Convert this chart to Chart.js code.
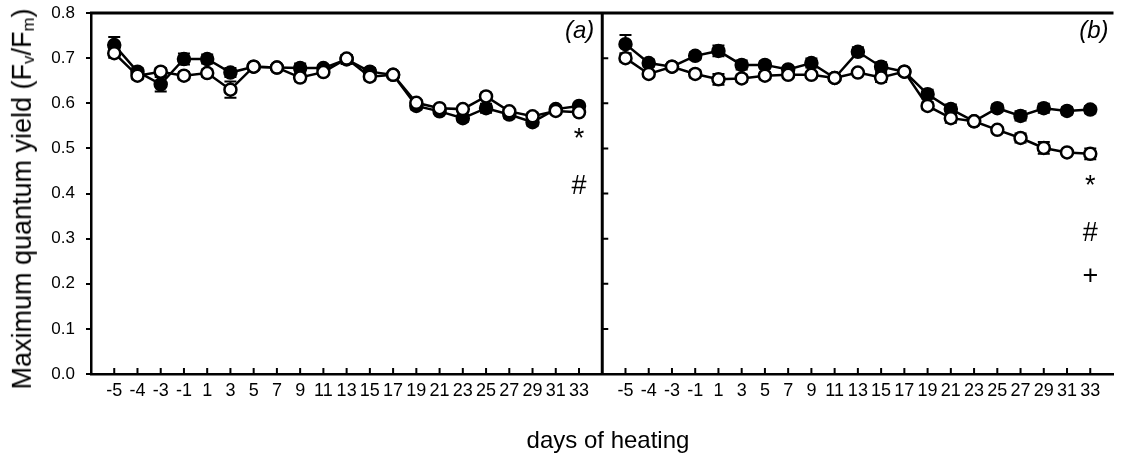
<!DOCTYPE html>
<html>
<head>
<meta charset="utf-8">
<script src="https://cdn.jsdelivr.net/npm/chart.js@4"></script>
<style>
  body { margin: 0; background: #fff; }
  #wrap { position: relative; width: 1122px; height: 453px; font-family: "Liberation Sans", Arial, sans-serif; color: #000; }
  #chartBox { position: absolute; left: 0; top: 0; width: 1122px; height: 453px; }
  .ytitle { position: absolute; left: 23px; top: 199px; white-space: nowrap; font-size: 27px; line-height: 1;
            transform: translate(-50%, -50%) rotate(-90deg); }
  .ytitle sub { font-size: 0.62em; vertical-align: -0.15em; }
  .xtitle { position: absolute; left: 608px; top: 440px; white-space: nowrap; font-size: 24px; line-height: 1;
            transform: translate(-50%, -50%); }
</style>
</head>
<body>
<div id="wrap">
  <div id="chartBox"><canvas id="myChart"></canvas></div>
  <div class="ytitle">Maximum quantum yield (F<sub>v</sub>/F<sub>m</sub>)</div>
  <div class="xtitle">days of heating</div>
</div>
<script>
// days of heating (same for both panels)
var categories = ['-5', '-4', '-3', '-1', '1', '3', '5', '7', '9', '11', '13', '15', '17', '19', '21', '23', '25', '27', '29', '31', '33'];

// panel (a)
var filledA = [0.729, 0.670, 0.642, 0.698, 0.698, 0.668, 0.681, 0.679, 0.678, 0.678, 0.697, 0.670, 0.663, 0.594, 0.582, 0.567, 0.589, 0.575, 0.558, 0.587, 0.594];
var openA   = [0.711, 0.661, 0.670, 0.661, 0.667, 0.630, 0.681, 0.679, 0.657, 0.669, 0.699, 0.659, 0.663, 0.601, 0.589, 0.587, 0.615, 0.582, 0.571, 0.583, 0.580];
var errFilledA = [0.018, 0.008, 0.016, 0.012, 0.010, 0.010, 0.006, 0.006, 0.010, 0.006, 0.010, 0.008, 0.006, 0.008, 0.006, 0.008, 0.010, 0.008, 0.008, 0.006, 0.006];
var errOpenA   = [0.010, 0.008, 0.008, 0.008, 0.008, 0.018, 0.006, 0.006, 0.008, 0.006, 0.008, 0.008, 0.006, 0.006, 0.006, 0.006, 0.008, 0.006, 0.008, 0.006, 0.006];

// panel (b)
var filledB = [0.731, 0.689, 0.681, 0.705, 0.716, 0.685, 0.685, 0.675, 0.689, 0.656, 0.714, 0.681, 0.670, 0.620, 0.587, 0.560, 0.589, 0.572, 0.589, 0.583, 0.586];
var openB   = [0.700, 0.665, 0.681, 0.665, 0.653, 0.655, 0.661, 0.663, 0.663, 0.656, 0.668, 0.657, 0.670, 0.594, 0.567, 0.560, 0.541, 0.523, 0.501, 0.491, 0.488];
var errFilledB = [0.020, 0.008, 0.006, 0.008, 0.012, 0.010, 0.008, 0.006, 0.010, 0.006, 0.010, 0.010, 0.006, 0.010, 0.010, 0.006, 0.008, 0.010, 0.010, 0.008, 0.008];
var errOpenB   = [0.008, 0.006, 0.006, 0.008, 0.012, 0.008, 0.008, 0.006, 0.006, 0.006, 0.006, 0.010, 0.006, 0.008, 0.010, 0.006, 0.006, 0.010, 0.013, 0.006, 0.012];

// y axis ticks
var yTicks = [0.0, 0.1, 0.2, 0.3, 0.4, 0.5, 0.6, 0.7, 0.8];

// significance marks at the last day of each panel
var panelNames = ['(a)', '(b)'];
var marksA = [{ text: '*', y: 0.502 }, { text: '#', y: 0.400 }];
var marksB = [{ text: '*', y: 0.398 }, { text: '#', y: 0.294 }, { text: '+', y: 0.200 }];

var FONT = '"Liberation Sans", Arial, sans-serif';
var panelShift = categories.length + 1; // panel (b) starts after a one-slot gap

function toPoints(values, shift) {
  return values.map(function (v, i) { return { x: i + shift, y: v }; });
}

function series(values, errs, shift, filled) {
  return {
    data: toPoints(values, shift),
    errors: errs,
    borderColor: '#000',
    borderWidth: 2.5,
    backgroundColor: filled ? '#000' : '#fff',
    pointBackgroundColor: filled ? '#000' : '#fff',
    pointBorderColor: '#000',
    pointBorderWidth: 2.5,
    pointRadius: 6,
    tension: 0,
    order: filled ? 2 : 1
  };
}

// frame, inward ticks, error bars and panel labels
var panelPlugin = {
  id: 'panelPlugin',
  beforeDatasetsDraw: function (chart) {
    var ctx = chart.ctx, ys = chart.scales.y, xs = chart.scales.x;
    ctx.save();
    ctx.strokeStyle = '#000';
    ctx.lineWidth = 2;
    chart.data.datasets.forEach(function (ds) {
      ds.data.forEach(function (p, i) {
        var e = ds.errors[i];
        var px = xs.getPixelForValue(p.x);
        var top = ys.getPixelForValue(p.y + e), bot = ys.getPixelForValue(p.y - e);
        ctx.beginPath();
        ctx.moveTo(px, top); ctx.lineTo(px, bot);
        ctx.moveTo(px - 6, top); ctx.lineTo(px + 6, top);
        ctx.moveTo(px - 6, bot); ctx.lineTo(px + 6, bot);
        ctx.stroke();
      });
    });
    ctx.restore();
  },
  afterDraw: function (chart) {
    var ctx = chart.ctx, a = chart.chartArea, ys = chart.scales.y, xs = chart.scales.x;
    var divX = xs.getPixelForValue(categories.length);
    ctx.save();
    ctx.strokeStyle = '#000';
    ctx.lineWidth = 3;
    ctx.beginPath();
    ctx.moveTo(a.left - 1, a.top); ctx.lineTo(a.right, a.top);
    ctx.moveTo(divX, a.top); ctx.lineTo(divX, a.bottom);
    ctx.stroke();
    ctx.lineWidth = 2;
    ctx.beginPath();
    yTicks.forEach(function (v) {
      var py = ys.getPixelForValue(v);
      ctx.moveTo(divX, py); ctx.lineTo(divX + 6, py);
    });
    for (var i = 0; i < categories.length; i++) {
      [i, i + panelShift].forEach(function (k) {
        var px = xs.getPixelForValue(k);
        ctx.moveTo(px, a.bottom); ctx.lineTo(px, a.bottom - 6);
      });
    }
    ctx.stroke();

    ctx.fillStyle = '#000';
    ctx.font = 'italic 24px ' + FONT;
    ctx.textAlign = 'right';
    ctx.textBaseline = 'middle';
    ctx.fillText(panelNames[0], divX - 8, a.top + 18);
    ctx.fillText(panelNames[1], a.right - 5, a.top + 18);

    ctx.font = '27px ' + FONT;
    ctx.textAlign = 'center';
    ctx.textBaseline = 'alphabetic';
    var lastA = xs.getPixelForValue(categories.length - 1);
    var lastB = xs.getPixelForValue(categories.length - 1 + panelShift);
    marksA.forEach(function (m) { ctx.fillText(m.text, lastA, ys.getPixelForValue(m.y)); });
    marksB.forEach(function (m) { ctx.fillText(m.text, lastB, ys.getPixelForValue(m.y)); });
    ctx.restore();
  }
};

function displayChart() {
  var ctx = document.getElementById('myChart').getContext('2d');
  new Chart(ctx, {
    type: 'line',
    data: {
      datasets: [
        series(openA, errOpenA, 0, false),
        series(openB, errOpenB, panelShift, false),
        series(filledA, errFilledA, 0, true),
        series(filledB, errFilledB, panelShift, true)
      ]
    },
    options: {
      responsive: true,
      maintainAspectRatio: false,
      animation: false,
      layout: { padding: { top: 13, left: 0, right: 0, bottom: 0 } },
      plugins: { legend: { display: false }, tooltip: { enabled: false } },
      scales: {
        x: {
          type: 'linear',
          min: -1,
          max: categories.length * 2 + 1,
          afterFit: function (scale) {
            scale.height = 79;
            scale.paddingLeft = 0;
            scale.paddingRight = 0;
          },
          grid: { drawOnChartArea: false, drawTicks: false, color: '#000' },
          border: { color: '#000', width: 2.5 },
          ticks: {
            stepSize: 1,
            autoSkip: false,
            maxRotation: 0,
            maxTicksLimit: 100,
            padding: 6,
            color: '#000',
            font: { family: FONT, size: 18 },
            callback: function (v) {
              var k = Math.round(v);
              if (k >= 0 && k < categories.length) return categories[k];
              k -= panelShift;
              if (k >= 0 && k < categories.length) return categories[k];
              return '';
            }
          }
        },
        y: {
          min: 0,
          max: 0.8,
          afterFit: function (scale) {
            scale.width = 91;
            scale.paddingTop = 0;
            scale.paddingBottom = 0;
          },
          afterBuildTicks: function (scale) { scale.ticks = yTicks.map(function (v) { return { value: v }; }); },
          grid: { drawOnChartArea: false, drawTicks: true, tickLength: 5, color: '#000', lineWidth: 2 },
          border: { color: '#000', width: 2.5 },
          ticks: {
            padding: 11,
            color: '#000',
            font: { family: FONT, size: 17 },
            callback: function (v) { return v.toFixed(1); }
          }
        }
      }
    },
    plugins: [panelPlugin]
  });
}

displayChart();
</script>
</body>
</html>
